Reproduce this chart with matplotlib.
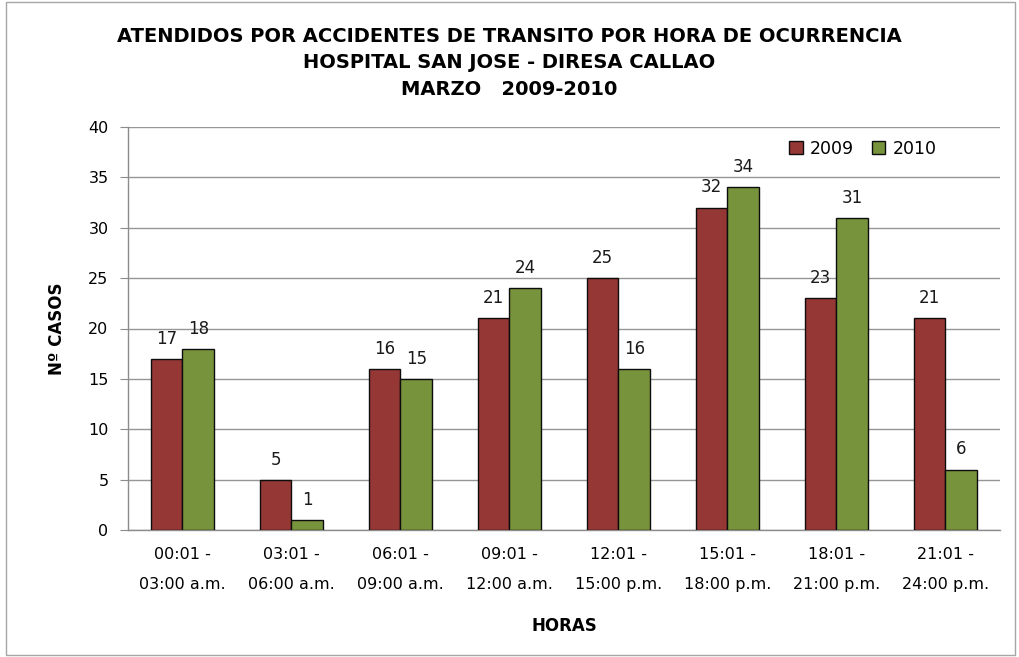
import matplotlib
matplotlib.use("Agg")
import matplotlib.pyplot as plt
import numpy as np
from matplotlib.patches import Rectangle

categories = ["00:01 -\n03:00 a.m.", "03:01 -\n06:00 a.m.", "06:01 -\n09:00 a.m.", "09:01 -\n12:00 a.m.",
              "12:01 -\n15:00 p.m.", "15:01 -\n18:00 p.m.", "18:01 -\n21:00 p.m.", "21:01 -\n24:00 p.m."]
series_2009 = [17, 5, 16, 21, 25, 32, 23, 21]
series_2010 = [18, 1, 15, 24, 16, 34, 31, 6]
yticks = [0, 5, 10, 15, 20, 25, 30, 35, 40]

title_font = ["DejaVu Sans"]
body_font = ["DejaVu Sans"]

fig = plt.figure(figsize=(10.19, 6.57), dpi=100)
fig.patches.append(Rectangle((0.006, 0.003), 0.99, 0.994, transform=fig.transFigure,
                             fill=False, edgecolor="#a6a6a6", linewidth=1.0))
ax = fig.add_axes([0.1256, 0.1933, 0.9813 - 0.1256, 0.8067 - 0.1933])

x = np.arange(len(categories))
w = 0.29
b1 = ax.bar(x - w / 2, series_2009, w, color="#953735", edgecolor="#0d0d0d", linewidth=1.0, label="2009", zorder=3)
b2 = ax.bar(x + w / 2, series_2010, w, color="#77933C", edgecolor="#0d0d0d", linewidth=1.0, label="2010", zorder=3)

for bars in (b1, b2):
    for r in bars:
        ax.annotate(f"{int(r.get_height())}", (r.get_x() + r.get_width() / 2, r.get_height()),
                    xytext=(0, 8), textcoords="offset points", ha="center", va="bottom",
                    fontsize=12, family=body_font, color="#1a1a1a")

ax.set_xlim(-0.5, len(categories) - 0.5)
ax.set_ylim(0, 40)
ax.set_yticks(yticks)
ax.set_yticklabels([str(v) for v in yticks], fontsize=11.5, family=body_font)
ax.set_xticks(x)
ax.set_xticklabels(categories, fontsize=11.5, family=body_font, linespacing=2.25)
ax.tick_params(axis="x", length=0, pad=12)
ax.tick_params(axis="y", length=6, color="#8c8c8c", pad=8)
ax.grid(axis="y", color="#969696", linewidth=1.0, zorder=0)
for s in ["top", "right"]:
    ax.spines[s].set_visible(False)
ax.spines["left"].set_color("#8c8c8c")
ax.spines["bottom"].set_color("#8c8c8c")
ax.spines["left"].set_linewidth(1.0)
ax.spines["bottom"].set_linewidth(1.0)

ax.set_ylabel("Nº CASOS", fontsize=12, fontweight="bold", family=title_font, labelpad=16)
ax.set_xlabel("HORAS", fontsize=12, fontweight="bold", family=title_font, labelpad=18)

leg = ax.legend(loc="upper right", bbox_to_anchor=(0.945, 1.007), ncol=2, frameon=False,
                handlelength=0.8, handleheight=0.8, columnspacing=1.0, handletextpad=0.4,
                prop={"family": body_font, "size": 12.5})

fig.text(0.5, 0.945, "ATENDIDOS POR ACCIDENTES DE TRANSITO POR HORA DE OCURRENCIA",
         ha="center", va="center", fontsize=14, fontweight="bold", family=title_font)
fig.text(0.5, 0.905, "HOSPITAL SAN JOSE - DIRESA CALLAO",
         ha="center", va="center", fontsize=14, fontweight="bold", family=title_font)
fig.text(0.5, 0.864, "MARZO   2009-2010",
         ha="center", va="center", fontsize=14, fontweight="bold", family=title_font)

fig.savefig("out.png", dpi=100)
